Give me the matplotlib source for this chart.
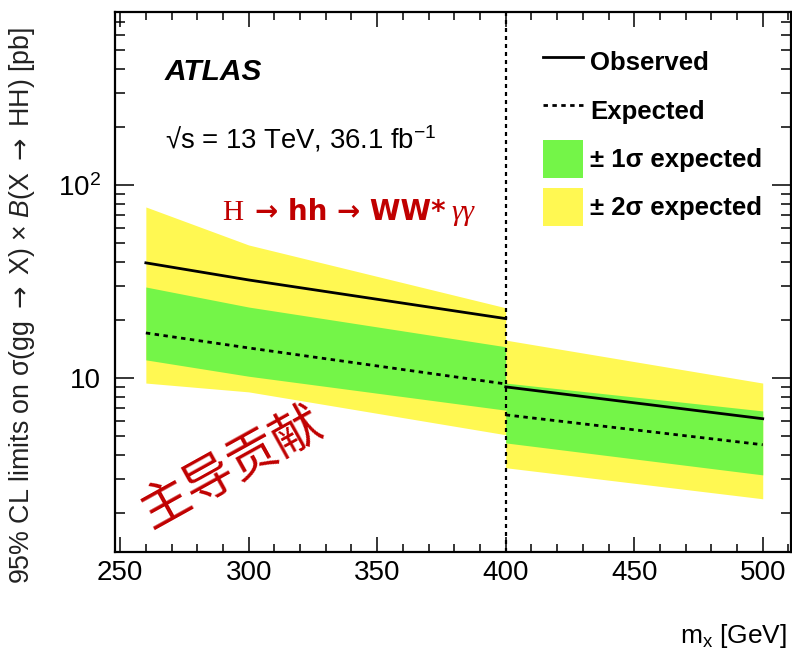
import matplotlib
matplotlib.use("Agg")
import matplotlib.pyplot as plt
from matplotlib.patches import Patch
from matplotlib.lines import Line2D
from matplotlib.ticker import FixedLocator, LogLocator, NullFormatter, MultipleLocator

plt.rcParams['font.family'] = ['Liberation Sans', 'DejaVu Sans']
plt.rcParams['mathtext.fontset'] = 'custom'
plt.rcParams['mathtext.rm'] = 'Liberation Sans'
plt.rcParams['mathtext.it'] = 'Liberation Sans:italic'
plt.rcParams['mathtext.bf'] = 'Liberation Sans:bold'
plt.rcParams['mathtext.sf'] = 'DejaVu Sans'

# ---- data ----
mass_low = [260, 300, 400]
obs_low = [39.5, 32.2, 20.3]
exp_low = [17.1, 14.3, 9.3]
s1_up_low = [29.6, 23.3, 14.5]
s1_dn_low = [12.4, 10.2, 6.8]
s2_up_low = [77.0, 48.9, 23.1]
s2_dn_low = [9.4, 8.46, 5.07]

mass_high = [400, 500]
obs_high = [8.98, 6.14]
exp_high = [6.43, 4.50]
s1_up_high = [9.4, 6.74]
s1_dn_high = [4.6, 3.14]
s2_up_high = [15.7, 9.4]
s2_dn_high = [3.42, 2.36]

x_ticks = [250, 300, 350, 400, 450, 500]
y_ticks = [10, 100]
y_ticklabels = ['10', '10$^{2}$']
legend_labels = ['Observed', 'Expected', '± 1σ expected', '± 2σ expected']

GREEN = '#74F548'
YELLOW = '#FFF852'
RED = '#C00000'

W, H = 792, 653
fig = plt.figure(figsize=(W / 100, H / 100), dpi=100)
ax = fig.add_axes([115 / W, 1 - 552 / H, (791 - 115) / W, (552 - 12) / H])

for m, up2, dn2, up1, dn1, ob, ex in [
        (mass_low, s2_up_low, s2_dn_low, s1_up_low, s1_dn_low, obs_low, exp_low),
        (mass_high, s2_up_high, s2_dn_high, s1_up_high, s1_dn_high, obs_high, exp_high)]:
    ax.fill_between(m, dn2, up2, color=YELLOW, lw=0, zorder=1)
    ax.fill_between(m, dn1, up1, color=GREEN, lw=0, zorder=2)
    ax.plot(m, ob, color='black', lw=2, zorder=4)
    ax.plot(m, ex, color='black', lw=2, ls=(0, (1.6, 1.6)), zorder=4)

ax.axvline(400, color='black', lw=1.6, ls=(0, (1.8, 1.8)), zorder=5)

ax.set_yscale('log')
ax.set_xlim(248, 511)
ax.set_ylim(1.25, 790)

ax.xaxis.set_major_locator(FixedLocator(x_ticks))
ax.xaxis.set_minor_locator(MultipleLocator(10))
ax.yaxis.set_major_locator(FixedLocator(y_ticks))
ax.set_yticklabels(y_ticklabels)
ax.yaxis.set_minor_locator(LogLocator(base=10, subs=range(2, 10)))
ax.yaxis.set_minor_formatter(NullFormatter())

ax.tick_params(axis='both', which='both', direction='in', top=True, right=True, width=1.1)
ax.tick_params(axis='x', which='major', length=11, labelsize=20, pad=6)
ax.tick_params(axis='x', which='minor', length=6)
ax.tick_params(axis='y', which='major', length=14, labelsize=20, pad=10)
ax.tick_params(axis='y', which='minor', length=7)
for s in ax.spines.values():
    s.set_linewidth(1.6)

fig.text(22 / W, 1 - 305 / H,
         '95% CL limits on σ(gg $\\mathsf{\\rightarrow}$ X) × $\\it{B}$(X $\\mathsf{\\rightarrow}$ HH) [pb]',
         fontsize=19.3, rotation=90, ha='center', va='center', color='#222222')
fig.text(787 / W, 1 - 643 / H, 'm$_\\mathrm{x}$ [GeV]', fontsize=19, ha='right', va='baseline')

# ATLAS labels
fig.text(165 / W, 1 - 80 / H, 'ATLAS', fontsize=21.5, fontweight='bold', style='italic', ha='left', va='baseline')
fig.text(165 / W, 1 - 148 / H, '√s = 13 TeV, 36.1 fb$^{-1}$', fontsize=19.8, ha='left', va='baseline')

# red annotation
base = 1 - 220 / H
fig.text(222 / W, base, 'H', fontsize=21, color=RED, family='Liberation Serif', ha='left', va='baseline')
fig.text(255 / W, base, '→ hh → WW*', fontsize=20, color=RED, fontweight='bold', ha='left', va='baseline',
         family=['DejaVu Sans'])
fig.text(451 / W, base, 'γγ', fontsize=21, color=RED, family='Liberation Serif', style='italic', ha='left', va='baseline')

# chinese text
fig.text(232 / W, 1 - 468 / H, '主导贡献', fontsize=36, color=RED, rotation=29, rotation_mode='anchor',
         ha='center', va='center', family=['Noto Sans CJK SC', 'DejaVu Sans'])

handles = [Line2D([], [], color='black', lw=2),
           Line2D([], [], color='black', lw=2, ls=(0, (1.6, 1.6))),
           Patch(facecolor=GREEN, edgecolor='none'),
           Patch(facecolor=YELLOW, edgecolor='none')]
leg = fig.legend(handles, legend_labels, loc='upper left', bbox_to_anchor=(543 / W, 1 - 43 / H),
                 frameon=False, prop={'weight': 'bold', 'size': 18.5}, handlelength=1.56, handleheight=1.9,
                 handletextpad=0.28, labelspacing=0.4, borderpad=0, borderaxespad=0)

fig.savefig('out.png', dpi=100)
